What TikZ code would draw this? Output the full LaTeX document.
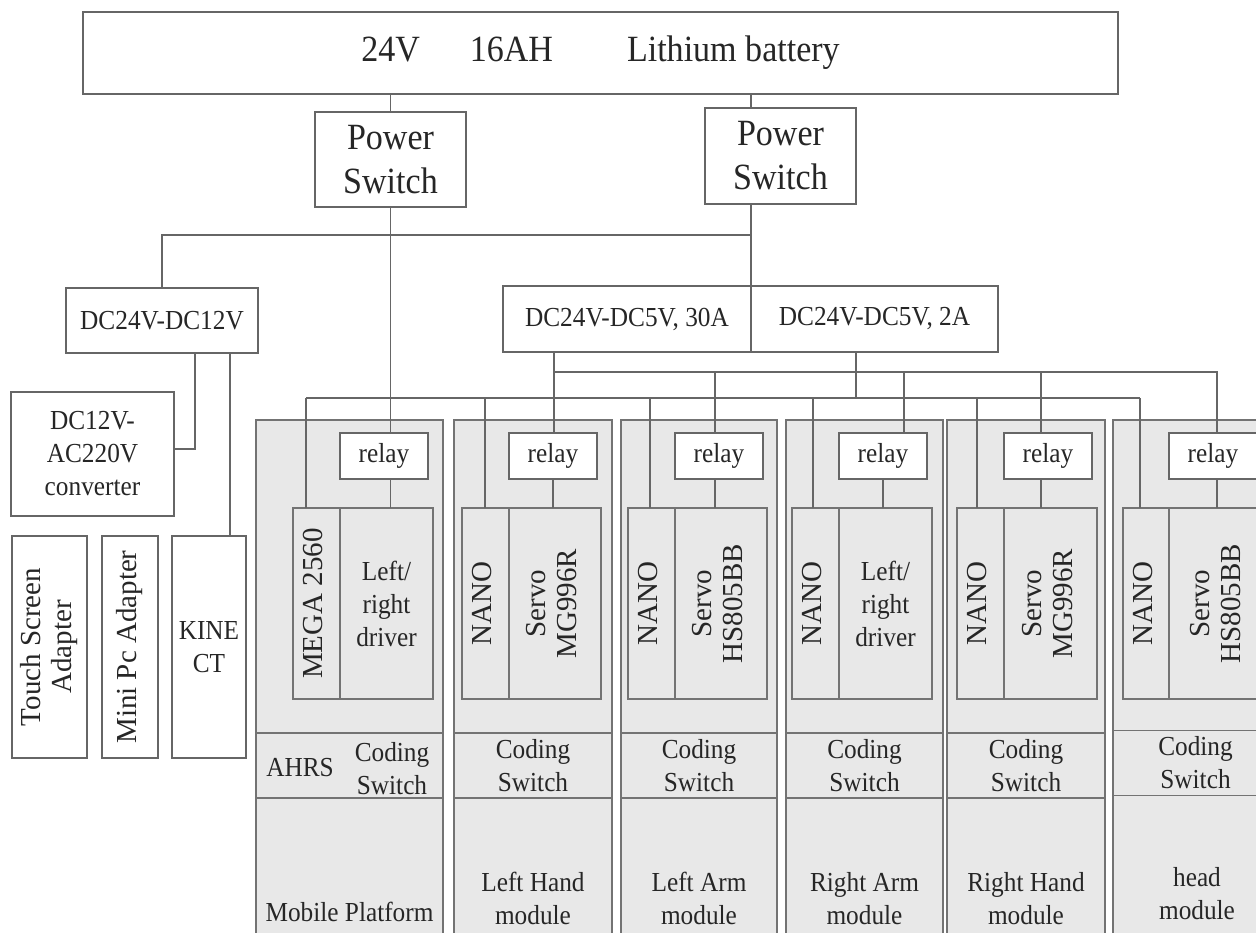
\documentclass[tikz,border=0pt]{standalone}
\usepackage{fontspec}
\setmainfont{Liberation Serif}
\newfontfamily\condfont{Liberation Serif}[FakeStretch=0.92]
\usepackage{graphicx}
\usepackage{tikz}
\usetikzlibrary{positioning}
\newcommand{\batfont}{\condfont\fontsize{37}{44}\selectfont}
\newcommand{\lblfont}{\condfont\fontsize{27.5}{33}\selectfont}
\newcommand{\vertfont}{\fontsize{29}{31}\selectfont}
\newcommand{\vtext}[1]{\rotatebox{90}{\begin{tabular}{@{}c@{}}#1\end{tabular}}}
\tikzset{
    boxnode/.style    = {draw=black!60, line width=1.2pt, fill=white, align=center,
                         inner sep=0pt, outer sep=0pt, text=black!85, font=\lblfont},
    bignode/.style    = {boxnode, font=\batfont},
    relaynode/.style  = {boxnode, minimum width=88, minimum height=46},
    panelnode/.style  = {draw=black!55, line width=1.2pt, fill=black!9, minimum height=520,
                         inner sep=0pt, outer sep=0pt},
    stripnode/.style  = {panelnode, minimum height=65, align=center, font=\lblfont, text=black!85},
    cellnode/.style   = {panelnode, minimum height=191, align=center, font=\vertfont, text=black!85},
    txtnode/.style    = {align=center, inner sep=0pt, font=\lblfont, text=black!85},
    wire/.style       = {draw=black!60, line width=1.2pt},
}
\begin{document}
\begin{tikzpicture}[x=1pt, y=-1pt]
\useasboundingbox (0,0) rectangle (1256,932);
\fill[white] (0,0) rectangle (1256,932);
\clip (0,0) rectangle (1256,932);

% supply side
\node[bignode, minimum width=1035, minimum height=82] (bat) at (600.5,53)
    {24V\hspace{1.35em}16AH\hspace{2em}Lithium battery};
\node[bignode, minimum width=151, minimum height=95] (ps1) at (390.5,159.5) {Power\\Switch};
\node[bignode, minimum width=151, minimum height=96] (ps2) at (780.5,156) {Power\\Switch};

\node[boxnode, minimum width=192, minimum height=65] (dc12) at (162,320.5) {DC24V-DC12V};
\node[boxnode, minimum width=248, minimum height=66] (dc30) at (627,319) {DC24V-DC5V, 30A};
\node[boxnode, minimum width=247, minimum height=66, right=0pt of dc30] (dc2) {DC24V-DC5V, 2A};

\node[boxnode, minimum width=163, minimum height=124] (conv) at (92.5,454)
    {DC12V-\\AC220V\\converter};
\node[boxnode, minimum width=75, minimum height=222, font=\vertfont] (touch) at (49.5,647)
    {\vtext{Touch Screen\\Adapter}};
\node[boxnode, minimum width=56, minimum height=222, font=\vertfont] (minipc) at (130,647)
    {\vtext{Mini Pc Adapter}};
\node[boxnode, minimum width=74, minimum height=222] (kinect) at (209,647) {KINE\\CT};

% modules
\node[panelnode, minimum width=187] (mp) at (349.5,680) {};
\node[panelnode, minimum width=158] (lh) at (533,680) {};
\node[panelnode, minimum width=156] (la) at (699,680) {};
\node[panelnode, minimum width=157] (ra) at (864.5,680) {};
\node[panelnode, minimum width=158] (rh) at (1026,680) {};
\node[panelnode, minimum width=165] (hd) at (1195.5,680) {};

\node[cellnode, minimum width=47] (mpctl) at (316.5,603.5) {\vtext{MEGA 2560}};
\node[cellnode, minimum width=93, font=\lblfont, right=0pt of mpctl] (mpdrv) {Left/\\right\\driver};
\node[cellnode, minimum width=47] (lhctl) at (485.5,603.5) {\vtext{NANO}};
\node[cellnode, minimum width=92, right=0pt of lhctl] (lhdrv) {\vtext{Servo\\MG996R}};
\node[cellnode, minimum width=47] (lactl) at (651.5,603.5) {\vtext{NANO}};
\node[cellnode, minimum width=92, right=0pt of lactl] (ladrv) {\vtext{Servo\\HS805BB}};
\node[cellnode, minimum width=47] (ractl) at (815.5,603.5) {\vtext{NANO}};
\node[cellnode, minimum width=93, font=\lblfont, right=0pt of ractl] (radrv) {Left/\\right\\driver};
\node[cellnode, minimum width=47] (rhctl) at (980.5,603.5) {\vtext{NANO}};
\node[cellnode, minimum width=93, right=0pt of rhctl] (rhdrv) {\vtext{Servo\\MG996R}};
\node[cellnode, minimum width=46] (hdctl) at (1146,603.5) {\vtext{NANO}};
\node[cellnode, minimum width=100, right=0pt of hdctl] (hddrv) {\vtext{Servo\\HS805BB}};

\node[relaynode, above right=29pt and 0pt of mpctl.north east] (mprelay) {relay};
\node[relaynode, above right=29pt and 0pt of lhctl.north east] (lhrelay) {relay};
\node[relaynode, above right=29pt and 0pt of lactl.north east] (larelay) {relay};
\node[relaynode, above right=29pt and 0pt of ractl.north east] (rarelay) {relay};
\node[relaynode, above right=29pt and 0pt of rhctl.north east] (rhrelay) {relay};
\node[relaynode, above right=29pt and 0pt of hdctl.north east] (hdrelay) {relay};

\node[stripnode, minimum width=187] (mpcs) at (349.5,765.5) {};
\node[txtnode] (ahrs) at (300,768) {AHRS};
\node[txtnode] (mpsw) at (392,769) {Coding\\Switch};
\node[stripnode, minimum width=158] (lhcs) at (533,765.5) {Coding\\Switch};
\node[stripnode, minimum width=156] (lacs) at (699,765.5) {Coding\\Switch};
\node[stripnode, minimum width=157] (racs) at (864.5,765.5) {Coding\\Switch};
\node[stripnode, minimum width=158] (rhcs) at (1026,765.5) {Coding\\Switch};
\node[stripnode, minimum width=165] (hdcs) at (1195.5,763) {Coding\\Switch};

\node[txtnode] (mplbl) at (349.5,912) {Mobile Platform};
\node[txtnode] (lhlbl) at (533,898.5) {Left Hand\\module};
\node[txtnode] (lalbl) at (699,898.5) {Left Arm\\module};
\node[txtnode] (ralbl) at (864.5,898.5) {Right Arm\\module};
\node[txtnode] (rhlbl) at (1026,898.5) {Right Hand\\module};
\node[txtnode] (hdlbl) at (1197,894) {head\\module};

% battery and switches
\coordinate (tap) at (751,235);
\draw[wire] (bat.south -| ps1.north) -- (ps1.north);
\draw[wire] (bat.south -| tap) -- (ps2.north -| tap);
\draw[wire] (ps2.south -| tap) -- (dc30.north east);
\draw[wire] (tap) -| (dc12.north);

% 12V branch
\draw[wire] ([xshift=33pt]dc12.south) |- ([yshift=5pt]conv.east);
\draw[wire] ([xshift=68pt]dc12.south) coordinate (kin) -- (kin |- kinect.north);

% mobile platform driver
\draw[wire] (ps1.south) -- (ps1.south |- mprelay.north);
\draw[wire] (ps1.south |- mprelay.south) -- (ps1.south |- mpdrv.north);

% 5V 30A bus to relays
\coordinate (pb1) at (554,372);
\coordinate (pb2) at (715,372);
\coordinate (pb3) at (904,372);
\coordinate (pb4) at (1041,372);
\coordinate (pb5) at (1217,372);
\draw[wire] (dc30.south -| pb1) -- (pb1 |- lhrelay.north);
\draw[wire] (pb1) -- (pb5) -- (pb5 |- hdrelay.north);
\draw[wire] (pb2) -- (pb2 |- larelay.north);
\draw[wire] (pb3) -- (pb3 |- rarelay.north);
\draw[wire] (pb4) -- (pb4 |- rhrelay.north);

\draw[wire] (lhrelay.south) -- (lhrelay.south |- lhdrv.north);
\draw[wire] (pb2 |- larelay.south) -- (pb2 |- ladrv.north);
\draw[wire] (rarelay.south) -- (rarelay.south |- radrv.north);
\draw[wire] (pb4 |- rhrelay.south) -- (pb4 |- rhdrv.north);
\draw[wire] (pb5 |- hdrelay.south) -- (pb5 |- hddrv.north);

% 5V 2A bus to controllers
\coordinate (cbj) at (856,398);
\coordinate (cb0) at (306,398);
\coordinate (cb1) at (485,398);
\coordinate (cb2) at (650,398);
\coordinate (cb3) at (813,398);
\coordinate (cb4) at (977,398);
\coordinate (cb5) at (1140,398);
\draw[wire] (dc2.south -| cbj) -- (cbj);
\draw[wire] (cb0) -- (cb5);
\draw[wire] (cb0) -- (cb0 |- mpctl.north);
\draw[wire] (cb1) -- (cb1 |- lhctl.north);
\draw[wire] (cb2) -- (cb2 |- lactl.north);
\draw[wire] (cb3) -- (cb3 |- ractl.north);
\draw[wire] (cb4) -- (cb4 |- rhctl.north);
\draw[wire] (cb5) -- (cb5 |- hdctl.north);

\end{tikzpicture}
\end{document}
